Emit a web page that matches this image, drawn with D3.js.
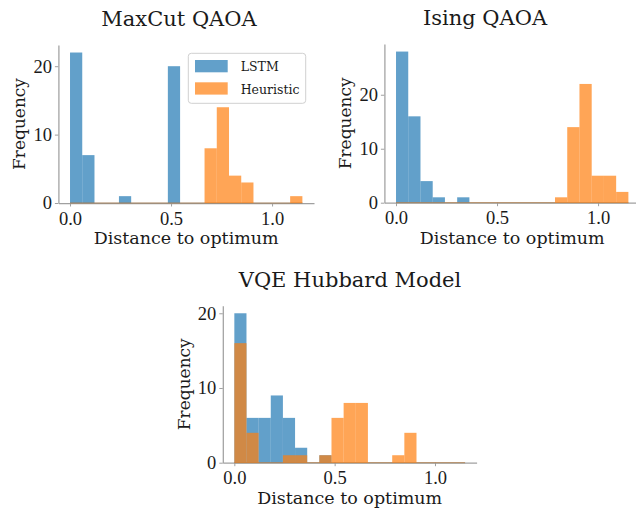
<!DOCTYPE html>
<html>
<head>
<meta charset="utf-8">
<script src="https://cdn.jsdelivr.net/npm/d3@7"></script>
<style>
  body { margin: 0; background: #fff; }
  svg text { font-family: "DejaVu Serif", serif; fill: #1a1a1a; }
</style>
</head>
<body>
<div id="chart"></div>
<script>
// shared histogram bins: 19 bins between 0 and 1.15
var binCount = 19;
var binMax = 1.15;

var maxcutLSTM      = [22, 7, 0, 0, 1, 0, 0, 0, 20, 0, 0, 0, 0, 0, 0, 0, 0, 0, 0];
var maxcutHeuristic = [0, 0, 0, 0, 0, 0, 0, 0, 0, 0, 0, 8, 14, 4, 3, 0, 0, 0, 1];
var isingLSTM       = [28, 16, 4, 1, 0, 1, 0, 0, 0, 0, 0, 0, 0, 0, 0, 0, 0, 0, 0];
var isingHeuristic  = [0, 0, 0, 0, 0, 0, 0, 0, 0, 0, 0, 0, 0, 1, 14, 22, 5, 5, 2];
var vqeLSTM         = [20, 6, 6, 9, 6, 2, 0, 1, 0, 0, 0, 0, 0, 0, 0, 0, 0, 0, 0];
var vqeHeuristic    = [16, 4, 0, 0, 1, 1, 0, 1, 6, 8, 8, 0, 0, 1, 4, 0, 0, 0, 0];

var seriesNames = ["LSTM", "Heuristic"];
var xTicks = [0, 0.5, 1.0];
var yTicks = [0, 10, 20];

var colors = ["#1f77b4", "#ff7f0e"];
var barAlpha = 0.7;

var W = 636, H = 508;
var svg = d3.select("#chart").append("svg")
  .attr("width", W)
  .attr("height", H);

var panels = [
  {title: "MaxCut QAOA", data: [maxcutLSTM, maxcutHeuristic], left: 58.4, right: 314, top: 45, bottom: 203,
   titleX: 179, ylabX: 24.5, legend: true},
  {title: "Ising QAOA", data: [isingLSTM, isingHeuristic], left: 384.4, right: 640, top: 44, bottom: 202.7,
   titleX: 485, ylabX: 350.5, legend: false},
  {title: "VQE Hubbard Model", data: [vqeLSTM, vqeHeuristic], left: 222.8, right: 476.6, top: 305.8, bottom: 462.7,
   titleX: 350, ylabX: 190, legend: false}
];

var binW = binMax / binCount;

panels.forEach(function(p) {
  var g = svg.append("g");
  var ymax = d3.max(p.data, function(s) { return d3.max(s); }) * 1.05;
  var xpad = binMax * 0.05;

  var x = d3.scaleLinear().domain([-xpad, binMax + xpad]).range([p.left, p.right]);
  var y = d3.scaleLinear().domain([0, ymax]).range([p.bottom, p.top]);

  // axes (left + bottom spines only)
  var xAxis = g.append("g")
    .attr("transform", "translate(0," + p.bottom + ")")
    .call(d3.axisBottom(x).tickValues(xTicks).tickFormat(d3.format(".1f")).tickSize(3.5).tickPadding(5).tickSizeOuter(0));
  var yAxis = g.append("g")
    .attr("transform", "translate(" + p.left + ",0)")
    .call(d3.axisLeft(y).tickValues(yTicks).tickSize(3.5).tickPadding(3).tickSizeOuter(0));
  [xAxis, yAxis].forEach(function(a) {
    a.select(".domain").attr("stroke", "#a0a0a0").attr("stroke-width", 1.25);
    a.selectAll(".tick line").attr("stroke", "#a0a0a0").attr("stroke-width", 1);
    a.selectAll(".tick text").attr("font-size", 18.5).attr("fill", "#1a1a1a")
      .style("font-family", "'Liberation Serif', serif");
  });

  // bars
  p.data.forEach(function(counts, si) {
    var bars = g.append("g");
    bars.selectAll("rect")
      .data(counts.map(function(c, i) { return {i: i, c: c}; }).filter(function(d) { return d.c > 0; }))
      .enter()
      .append("rect")
        .attr("x", function(d) { return x(d.i * binW); })
        .attr("width", function(d) { return x((d.i + 1) * binW) - x(d.i * binW); })
        .attr("y", function(d) { return y(d.c); })
        .attr("height", function(d) { return y(0) - y(d.c); })
        .attr("fill", colors[si])
        .attr("fill-opacity", barAlpha);
    // zero-height bins leave a thin line on the baseline
    bars.append("line")
      .attr("x1", x(0)).attr("x2", x(binMax))
      .attr("y1", y(0)).attr("y2", y(0))
      .attr("stroke", colors[si])
      .attr("stroke-opacity", 0.55)
      .attr("stroke-width", 1);
  });

  // title
  g.append("text")
    .attr("x", p.titleX)
    .attr("y", p.top - 19)
    .attr("text-anchor", "middle")
    .attr("font-size", 21)
    .text(p.title);

  // axis labels
  g.append("text")
    .attr("x", (p.left + p.right) / 2)
    .attr("y", p.bottom + 41)
    .attr("text-anchor", "middle")
    .attr("font-size", 17.5)
    .text("Distance to optimum");

  var cy = (p.top + p.bottom) / 2;
  g.append("text")
    .attr("transform", "translate(" + p.ylabX + "," + cy + ") rotate(-90)")
    .attr("text-anchor", "middle")
    .attr("font-size", 17)
    .text("Frequency");

  if (p.legend) {
    var lg = g.append("g");
    lg.append("rect")
      .attr("x", 188.3).attr("y", 53.3)
      .attr("width", 117.4).attr("height", 50)
      .attr("rx", 3)
      .attr("fill", "#fff").attr("fill-opacity", 0.8)
      .attr("stroke", "#d0d0d0").attr("stroke-width", 1);
    seriesNames.forEach(function(name, i) {
      lg.append("rect")
        .attr("x", 195).attr("y", 60 + i * 22.3)
        .attr("width", 32.7).attr("height", 12.3)
        .attr("fill", colors[i]).attr("fill-opacity", barAlpha);
      lg.append("text")
        .attr("x", 240.7).attr("y", 71 + i * 23)
        .attr("font-size", 12.5)
        .text(name);
    });
  }
});
</script>
</body>
</html>
